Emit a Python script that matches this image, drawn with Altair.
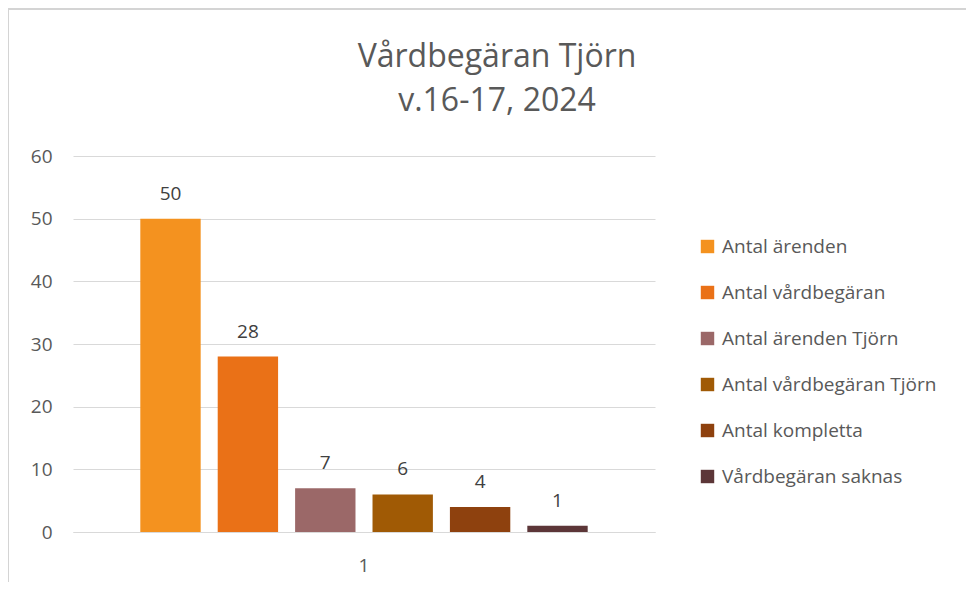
import altair as alt
import pandas as pd

series = ["Antal ärenden", "Antal vårdbegäran", "Antal ärenden Tjörn",
          "Antal vårdbegäran Tjörn", "Antal kompletta", "Vårdbegäran saknas"]
values = [50, 28, 7, 6, 4, 1]
group = ["1"] * 6
colors = ["#F4921F", "#EA7117", "#9B6868", "#A05A05", "#8E410E", "#5C3638"]
y_ticks = [0, 10, 20, 30, 40, 50, 60]
title_lines = ["Vårdbegäran Tjörn", "v.16-17, 2024"]

df = pd.DataFrame({"group": group, "series": series, "value": values})

FONT = "Open Sans"
GRAY = "#595959"

x_enc = alt.X("group:N", title=None,
              scale=alt.Scale(paddingInner=0, paddingOuter=0.1266),
              axis=alt.Axis(labelAngle=0, ticks=False, domainColor="#d9d9d9",
                            labelPadding=24, labelFontSize=19, labelColor=GRAY,
                            labelFont=FONT))
xo_enc = alt.XOffset("series:N", sort=series,
                     scale=alt.Scale(paddingInner=0.22, paddingOuter=0.11))
y_enc = alt.Y("value:Q", title=None,
              scale=alt.Scale(domain=[0, 60], nice=False),
              axis=alt.Axis(values=y_ticks, domain=False, ticks=False,
                            gridColor="#d9d9d9", gridWidth=1.2,
                            labelPadding=21, labelFontSize=19,
                            labelColor=GRAY, labelFont=FONT))

bars = alt.Chart(df).mark_bar().encode(
    x=x_enc, xOffset=xo_enc, y=y_enc,
    color=alt.Color("series:N", sort=series,
                    scale=alt.Scale(domain=series, range=colors),
                    legend=alt.Legend(title=None, orient="none",
                                      legendX=625, legendY=81,
                                      symbolType="square", symbolSize=180,
                                      symbolStrokeWidth=0, labelFontSize=19,
                                      labelColor=GRAY, labelFont=FONT,
                                      labelLimit=0,
                                      rowPadding=26, labelOffset=5)),
)

labels = alt.Chart(df).mark_text(baseline="bottom", dy=-15, fontSize=19,
                                 color="#404040", font=FONT).encode(
    x=x_enc, xOffset=xo_enc, y=y_enc, text=alt.Text("value:Q"),
)

border_data = alt.Data(values=[{"k": 1}])
top_border = alt.Chart(border_data).mark_rule(color="#d4d4d4", strokeWidth=2).encode(
    x=alt.value(-65), x2=alt.value(910), y=alt.value(-147))
left_border = alt.Chart(border_data).mark_rule(color="#d4d4d4", strokeWidth=2).encode(
    x=alt.value(-65), y=alt.value(-147), y2=alt.value(440))

chart = alt.layer(bars, labels, top_border, left_border).properties(
    width=582, height=376,
    autosize=alt.AutoSizeParams(type="none"),
    padding={"left": 65, "top": 148, "right": 311, "bottom": 50},
    title=alt.TitleParams(text=title_lines, fontSize=32, font=FONT,
                          fontWeight="normal", color=GRAY, anchor="middle",
                          dx=133, offset=-110, lineHeight=44),
).configure_view(stroke=None)

chart.save("out.html", embed_options={"renderer": "svg", "actions": False})
